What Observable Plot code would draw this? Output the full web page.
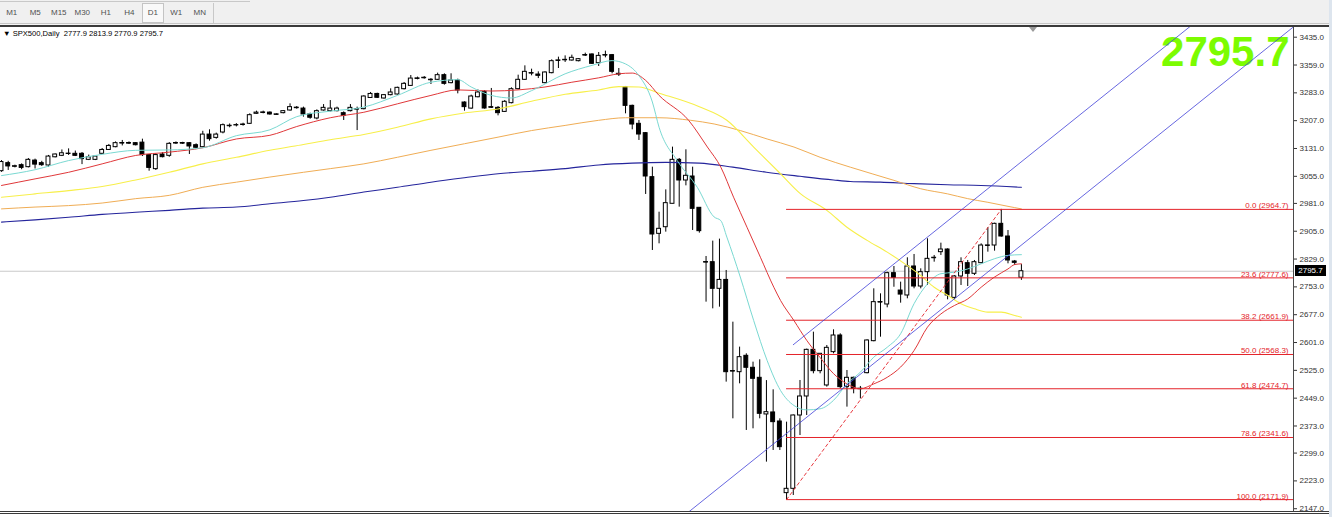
<!DOCTYPE html>
<html><head><meta charset="utf-8">
<script src="https://cdn.jsdelivr.net/npm/d3@7"></script>
<script src="https://cdn.jsdelivr.net/npm/@observablehq/plot@0.6"></script>
<style>
html,body{margin:0;padding:0;background:#fff;}
body{width:1332px;height:517px;overflow:hidden;position:relative;font-family:"Liberation Sans",Arial,sans-serif;}
.abs{position:absolute;}
#toolbar{left:0;top:0;width:1332px;height:23px;background:#f0f0f0;}
#tfrow{position:absolute;left:0;top:3px;height:20px;display:flex;}
.tf{width:23.5px;height:20px;line-height:20px;text-align:center;font-size:8px;color:#505050;box-sizing:border-box;}
.tf.sel{background:#f9f9f9;border:1px solid #c4c4c4;line-height:18px;margin:0 1px;width:21.5px;}
#chart{left:0;top:27px;}
#title{left:3px;top:29px;font-size:7.6px;color:#000;white-space:pre;}
#pricebox{left:1295px;width:31px;height:11px;background:#000;color:#fff;font-size:8px;line-height:11px;text-align:center;}
</style></head><body>
<div id="toolbar" class="abs">
  <div class="abs" style="left:0;top:1px;width:250px;height:1px;background:#c8c8c8"></div>
  <div id="tfrow"></div>
  <div class="abs" style="left:213px;top:3px;width:1px;height:20px;background:#c8c8c8"></div>
</div>
<div class="abs" style="left:0;top:23px;width:1332px;height:1px;background:#c6c6c6"></div>
<div class="abs" style="left:0;top:24px;width:1332px;height:1px;background:#f4f4f4"></div>
<div class="abs" style="left:0;top:25px;width:1329px;height:2px;background:#3a3a3a"></div>
<div id="chart" class="abs"></div>
<div id="title" class="abs"></div>
<div class="abs" style="left:1293px;top:27px;width:1px;height:485px;background:#4a4a4a"></div>
<div class="abs" style="left:0;top:511px;width:1329px;height:1px;background:#3a3a3a"></div>
<div class="abs" style="left:0;top:513px;width:1329px;height:1px;background:#3a3a3a"></div>
<div class="abs" style="left:1329px;top:0;width:3px;height:517px;background:#dde5ee"></div>
<div class="abs" style="left:1029px;top:27px;width:0;height:0;border-left:4px solid transparent;border-right:4px solid transparent;border-top:5px solid #9a9a9a"></div>
<div id="pricebox" class="abs"></div>
<script>
// ---------------- data ----------------
const symbol = "SPX500";
const period = "Daily";
const timeframes = ["M1","M5","M15","M30","H1","H4","D1","W1","MN"];
const selectedTf = "D1";

const opens = [3069,3091,3082,3085.5,3080,3098,3091,3084.6,3107,3111,3116,3116.5,3116.5,3100,3100,3116.5,3127,3134.6,3145.5,3146,
3145.6,3147,3113,3074.6,3114.6,3111,3145.5,3146,3145.5,3140,3134.6,3169,3160,3174.7,3193,3194,3196,3198.4,3225.7,3229,
3229,3224,3227.5,3234.8,3242,3240,3224,3213,3234.8,3233,3233,3227.5,3233,3238.4,3238.4,3269,3280,3267.6,3276.7,3278.5,
3293,3302,3322,3324,3318.6,3318.6,3331.3,3309.5,3316.7,3256.6,3240,3271,3285.8,3244,3242,3231,3254.8,3293,3318.6,3336.8,
3333,3309.5,3336.8,3371.4,3373,3371.4,3369.5,3386,3387.8,3364,3386,3386,3335,3298.5,3247.5,3198.4,3172.9,3052.7,2897.9,2916,
2979.9,3100,3043.6,3054.5,2969,2820.5,2820.5,2747.7,2772,2522.8,2520,2564.7,2532,2504.6,2404.5,2410,2385.3,2189.6,2201.4,2401.7,
2453.6,2581,2522.8,2483.7,2574.7,2620.2,2479.1,2504.6,2474.6,2517.3,2604.7,2711.3,2704.9,2790.5,2743,2729.5,2808.7,2754,2793.2,2832.4,
2847.8,2855.1,2723,2781.4,2817.8,2788.7,2817.8,2866,2866,2925.2,2890.6,2822.3,2777.9];
const highs = [3098,3096,3085.5,3089,3103.7,3102,3096,3112,3116,3127,3130,3124,3120,3113,3111,3131,3142,3149,3153,3149,
3147,3156.5,3114.6,3116.5,3120,3147,3149,3148,3147,3143.7,3178,3182,3173,3198,3198,3199,3200,3225.7,3233,3233,
3231,3225.7,3234.8,3253,3245.7,3244,3227.5,3236.6,3251,3262,3244,3231,3251,3244,3275,3284,3282,3278.5,3294,3298.5,
3311.3,3330.4,3326,3327.5,3322,3336.8,3335,3335,3320.4,3258.5,3276.7,3291,3289.4,3295,3245.7,3262,3296.7,3331.3,3356.8,3347.7,
3340.4,3340.4,3373.2,3380.5,3384,3386,3376.8,3391.4,3389.6,3393.2,3396.9,3387.8,3349.5,3300.4,3249.4,3207.5,3174.7,3080,2957,3018,
3134.7,3103.7,3127.4,3080,2969,2836,2878,2883.4,2797.8,2656.6,2588.4,2570.2,2547.4,2553.8,2497,2471.8,2392.6,2383.5,2403,2497.3,
2583,2629.3,2570.2,2592.9,2635.7,2624.8,2524.6,2506.4,2481,2608.4,2747.7,2734,2793.2,2808.7,2765.9,2832.4,2841.5,2802.3,2884.3,2838.8,
2872.4,2857,2784.1,2832.4,2825.1,2825.1,2870.6,2914.3,2927,2964.7,2907,2825.1,2813.9];
const lows = [3066,3071,3078,3073,3078,3075,3082,3080,3105.5,3109,3112,3109,3087,3098,3098,3114.6,3125.5,3133,3138,3142,
3138,3109,3069,3071,3105.5,3107,3142,3142,3114.6,3129,3133,3151,3156.5,3171,3187.5,3190,3192,3196.5,3224,3225.7,
3222,3222,3225.7,3233,3238.4,3216.6,3211,3209.3,3233,3231,3231,3207.5,3231,3180,3236.6,3267.6,3267.6,3266,3274.9,3276.7,
3291,3300.4,3318.6,3320.4,3305.8,3316.7,3304,3307.6,3280.3,3233,3238.4,3269.4,3238.4,3240.3,3220.2,3229.3,3253,3291,3316.7,3329.5,
3322,3307.6,3335,3349.5,3366,3369.5,3367.7,3382.3,3360.4,3355,3378.7,3335,3327.7,3225.7,3182,3152.9,3005.4,2852.4,2870.6,2902.5,
2979.9,2970.8,3029,2907,2899.8,2711.3,2693,2697.6,2492.8,2392.6,2488.2,2360.8,2365.3,2392.6,2274.3,2306.1,2306.1,2171.9,2183.2,2347,
2401.7,2515.5,2515.5,2479.1,2570.2,2474.6,2424.5,2460.9,2447.2,2515.5,2603,2615.6,2695.8,2752,2708.5,2720.4,2747.7,2747.7,2756.8,2820.5,
2838.8,2717.6,2715.8,2756.8,2754,2784.1,2816,2847.8,2850.6,2888.8,2816,2811.4,2770.9];
const closes = [3094,3082,3082.5,3078,3100,3087,3085.5,3109,3114.6,3118,3117,3111,3102,3107,3109,3127,3138,3145.6,3146,3145.5,
3140,3113,3078,3113,3107.3,3143.7,3146,3145.5,3136.5,3133,3169,3156.5,3169,3194.7,3193.2,3195,3196.5,3222,3229,3229.5,
3224,3224.2,3233,3244,3242.5,3224,3215,3233,3242,3240,3240,3220,3242,3238.6,3273,3280,3269.5,3276.7,3284,3296.7,
3307.6,3322,3322.5,3324.2,3318.8,3331.3,3307.6,3316.7,3289.4,3244,3273,3284,3240.3,3243.5,3227.5,3258.5,3293,3318.6,3340.4,3337,
3329.5,3338.6,3369.5,3371.6,3373.2,3378.7,3375,3386.2,3362.3,3384,3386.2,3340.4,3333,3247.5,3196.5,3169.2,3054.5,2896.1,2911.6,2981.7,
3100,3043.6,3056.4,2966.2,2905.2,2820.7,2747.7,2772,2520,2523,2561,2532,2501.9,2406.3,2410.8,2383.5,2315.2,2201.4,2401.7,2453.6,
2581,2522.8,2570.2,2586.5,2620.2,2479.1,2504.6,2474.6,2474.8,2606.6,2711.3,2711.5,2790.5,2777.7,2732,2808.7,2754,2793.2,2829.6,2832.6,
2855.1,2729.5,2781.4,2820.5,2788.7,2820.5,2866,2866.2,2925.2,2890.6,2825.1,2818.7,2795.7];

// moving averages: [bar index, price]
const maCyan = [[0,3057],[5,3073],[10,3098],[15,3115],[20,3126],[25,3127],[30,3133],[35,3166],[40,3182],[44,3218],[49,3233],[54,3244],[59,3276],[64,3312],[68,3319],[70,3299],[73,3276],[76,3269],[79,3289],[84,3335],[88,3358],[91,3371],[93,3362],[95,3330],[97,3258],[98,3189],[100.7,3098],[103.7,3025],[106.2,2944],[107.2,2934],[108.1,2889],[110.1,2780],[112.1,2661],[114.1,2552],[116.1,2470],[118.1,2429],[120,2417],[122,2420],[124,2443],[126,2488],[128,2520],[130,2561],[132,2588],[134,2625],[136,2707],[138,2761],[140,2789],[142,2793],[144,2802],[146,2816],[148,2830],[150,2839],[152,2841]];
const maRed = [[0,3030],[5,3048],[10,3066],[15,3089],[20,3112],[25,3121],[30,3133],[35,3157],[40,3167],[44,3191],[49,3215],[54,3230],[59,3253],[64,3276],[68,3291],[73,3288],[77,3291],[81,3299],[85,3312],[89,3324],[92,3335],[94,3337],[96,3317],[98,3276],[102.4,3208],[105.2,3135],[107.2,3080],[109.1,2998],[111.1,2916],[113.1,2834],[115.1,2752],[116.1,2716],[118.1,2661],[120,2607],[122,2560],[124,2516],[126,2488],[128,2475],[130,2488],[132,2506],[134,2534],[136,2579],[138,2643],[140,2679],[142,2702],[144,2720],[146,2752],[148,2780],[150,2802],[151,2814],[152,2816]];
const maYellow = [[0,2998],[5,3007],[10,3016],[15,3027],[20,3045],[25,3066],[30,3089],[35,3107],[40,3126],[45,3142],[49,3155],[54,3169],[59,3189],[64,3212],[69,3228],[74,3239],[79,3260],[84,3279],[89,3291],[92,3300],[95,3299],[98,3282],[104,3245],[108.1,3208],[112.1,3135],[116.1,3062],[119.1,3007],[123,2962],[126,2916],[129,2880],[132,2848],[135,2811],[137,2784],[139,2752],[141,2730],[143,2707],[145,2693],[147,2684],[149,2684],[151,2675],[152,2670]];
const maOrange = [[0,2966],[5,2971],[10,2975],[15,2982],[20,2994],[25,3003],[30,3025],[35,3039],[40,3053],[45,3066],[49,3076],[54,3089],[59,3107],[64,3126],[69,3144],[74,3162],[79,3180],[84,3194],[89,3208],[93,3215],[98,3215],[102.7,3208],[106.2,3198],[110.1,3180],[114.1,3157],[118.1,3135],[122,3107],[126.5,3080],[133,3044],[137,3021],[141,3007],[144,2994],[147,2984],[150,2973],[152,2966]];
const maBlue = [[0,2930],[5,2936],[10,2943],[15,2951],[20,2957],[25,2962],[30,2968],[35,2971],[40,2980],[45,2989],[49,2998],[54,3012],[59,3025],[64,3039],[69,3051],[74,3062],[79,3069],[84,3076],[89,3086],[94,3091],[99,3093],[104,3091],[109,3080],[114,3066],[119,3055],[124,3045],[126.5,3041],[131,3039],[136,3035],[141,3032],[146,3030],[152,3025]];

// Fibonacci retracement (from low bar to high bar)
const fibLevels = ["0.0","23.6","38.2","50.0","61.8","78.6","100.0"];
const fibPrices = [2964.7,2777.6,2661.9,2568.3,2474.7,2341.6,2171.9];
const fibAnchors = [[117,2171.9],[149,2964.7]];

// equidistant channel lines: [bar index, price]
const channelLower = [[102.3,2136.6],[192.55,3463.3]];
const channelUpper = [[118,2595],[192.55,3690.9]];

// price axis tick labels
const yTicks = [3435,3359,3283,3207,3131,3055,2981,2905,2829,2753,2677,2601,2525,2449,2373,2299,2223,2147];

const xDomain = [-0.15, 192.55];
const yDomain = [2136.7, 3461.5];

// ---------------- build ----------------
const tfrow = document.getElementById("tfrow");
timeframes.forEach(t => {
  const b = document.createElement("div");
  b.className = "tf" + (t === selectedTf ? " sel" : "");
  b.textContent = t;
  tfrow.appendChild(b);
});

const candles = opens.map((o, i) => ({i, o, h: highs[i], l: lows[i], c: closes[i]}));
const last = candles[candles.length - 1];
document.getElementById("title").textContent =
  `\u25BC ${symbol},${period}  ${last.o.toFixed(1)} ${last.h.toFixed(1)} ${last.l.toFixed(1)} ${last.c.toFixed(1)}`;

const bull = candles.filter(d => d.c >= d.o);
const bear = candles.filter(d => d.c < d.o);
const doji = candles.filter(d => Math.abs(d.c - d.o) < 1);
const fibs = fibLevels.map((p, k) => ({pct: p, price: fibPrices[k]}));
const red = "#e4232a";
const bw = 0.29;

const plot = Plot.plot({
  width: 1332, height: 490,
  marginLeft: 0, marginRight: 39, marginTop: 0, marginBottom: 5,
  style: {fontFamily: "Liberation Sans, Arial, sans-serif", fontSize: "8px", background: "transparent", overflow: "visible"},
  x: {domain: xDomain, axis: null},
  y: {domain: yDomain, axis: null},
  marks: [
    Plot.ruleY([last.c], {stroke: "#c9c9c9"}),
    Plot.text([last.c], {frameAnchor: "top-right", text: d => d.toFixed(1), dx: -4, dy: 9, lineAnchor: "top",
      fontSize: 42, fontWeight: "bold", fill: "#7cfc00"}),
    Plot.ruleX(candles, {x: "i", y1: "l", y2: "h", stroke: "#000", strokeWidth: 1}),
    Plot.rect(bull, {x1: d => d.i - bw, x2: d => d.i + bw, y1: "o", y2: "c", fill: "#fff", stroke: "#000", strokeWidth: 1}),
    Plot.rect(bear, {x1: d => d.i - bw, x2: d => d.i + bw, y1: "o", y2: "c", fill: "#000", stroke: "#000", strokeWidth: 1}),
    Plot.ruleY(doji, {y: "c", x1: d => d.i - bw - 0.05, x2: d => d.i + bw + 0.05, stroke: "#000"}),
    Plot.line(maBlue, {x: d => d[0], y: d => d[1], stroke: "#25259c", strokeWidth: 1.1, curve: "monotone-x"}),
    Plot.line(maOrange, {x: d => d[0], y: d => d[1], stroke: "#f0ad55", strokeWidth: 1, curve: "monotone-x"}),
    Plot.line(maYellow, {x: d => d[0], y: d => d[1], stroke: "#f7ef4a", strokeWidth: 1.1, curve: "monotone-x"}),
    Plot.line(maRed, {x: d => d[0], y: d => d[1], stroke: "#e0383a", strokeWidth: 1, curve: "monotone-x"}),
    Plot.line(maCyan, {x: d => d[0], y: d => d[1], stroke: "#7ad9d2", strokeWidth: 1, curve: "monotone-x"}),
    Plot.ruleY(fibs, {y: "price", x1: fibAnchors[0][0], x2: xDomain[1], stroke: red}),
    Plot.line(fibAnchors, {x: d => d[0], y: d => d[1], stroke: red, strokeWidth: 0.9, strokeDasharray: "3,3"}),
    Plot.text(fibs, {x: xDomain[1], y: "price", text: d => `${d.pct} (${d.price.toFixed(1)})`, textAnchor: "end",
      lineAnchor: "bottom", dx: -5, dy: -1, fill: red, fontSize: 8}),
    Plot.line(channelLower, {x: d => d[0], y: d => d[1], stroke: "#4040d8", strokeWidth: 0.8, clip: true}),
    Plot.line(channelUpper, {x: d => d[0], y: d => d[1], stroke: "#4040d8", strokeWidth: 0.8, clip: true}),
    Plot.axisY(yTicks, {anchor: "right", tickSize: 3, tickPadding: 3, tickFormat: d => d.toFixed(1), label: null,
      stroke: "#333", fill: "#333", fontSize: 8})
  ]
});
document.getElementById("chart").appendChild(plot);
const yPix = plot.scale("y").apply(last.c) + 27;
const pb = document.getElementById("pricebox");
pb.style.top = (yPix - 5.5) + "px";
pb.textContent = last.c.toFixed(1);
</script>
</body></html>
